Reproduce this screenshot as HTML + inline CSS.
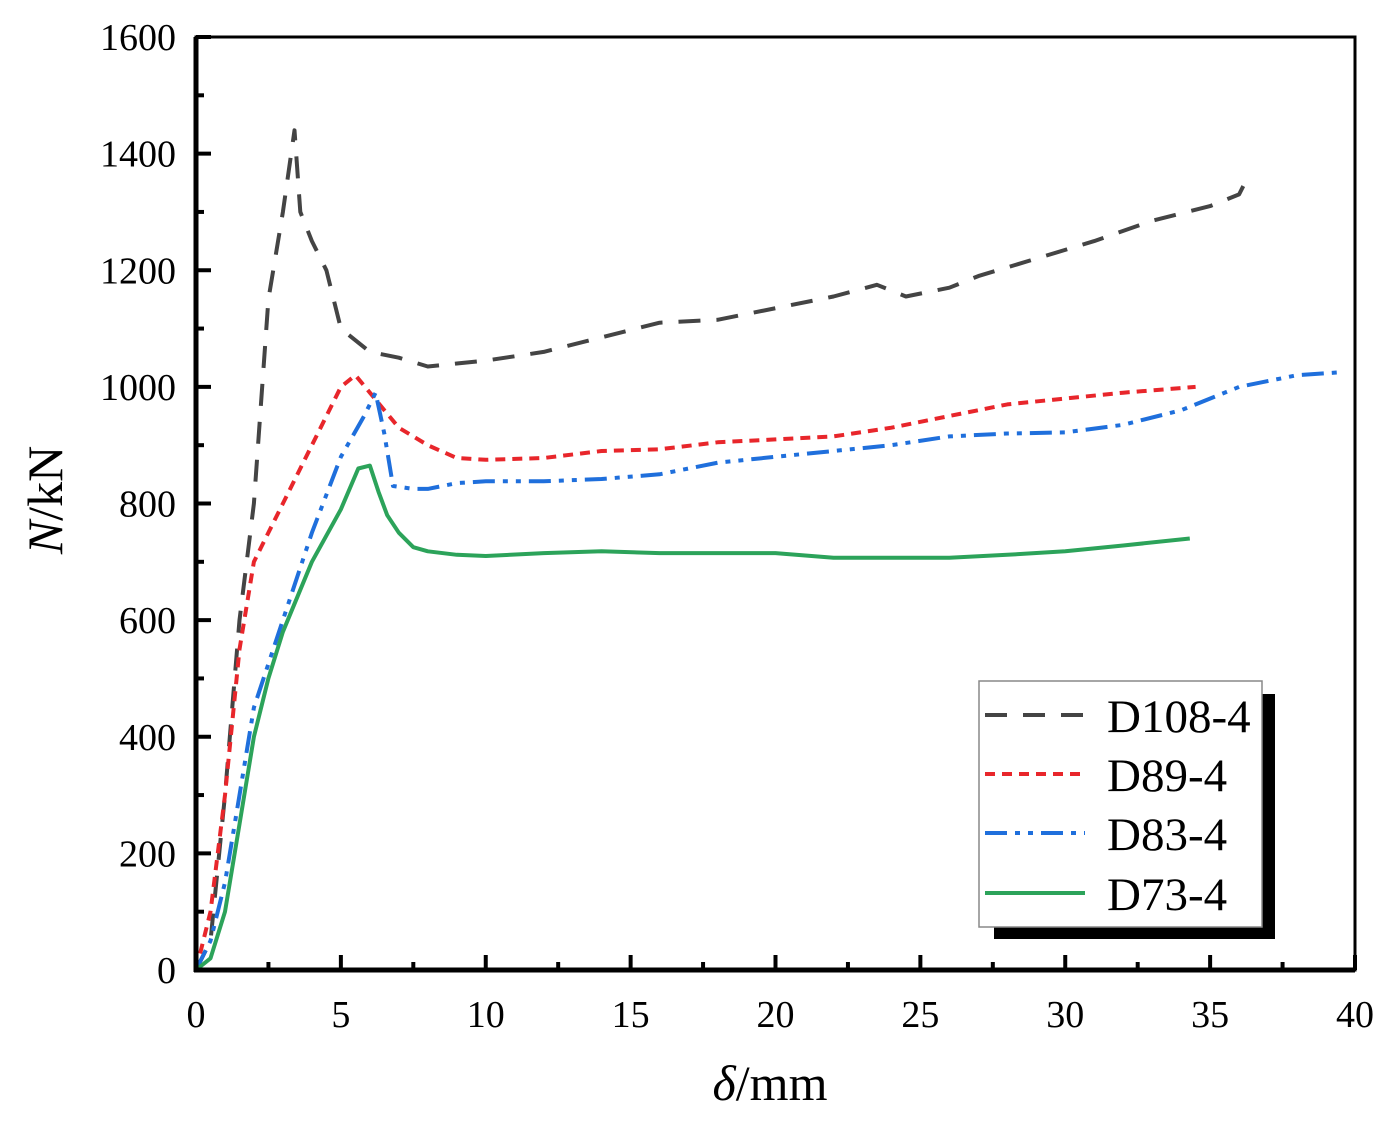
<!DOCTYPE html>
<html><head><meta charset="utf-8"><style>
html,body{margin:0;padding:0;background:#fff;}
svg{display:block;font-family:"Liberation Serif",serif;}
</style></head><body>
<svg id="chart" width="1390" height="1126" viewBox="0 0 1390 1126">
<g id="plot"></g>
</svg>
<script>
const seriesNames=["D108-4","D89-4","D83-4","D73-4"];
const xTicks=[0,5,10,15,20,25,30,35,40];
const yTicks=[0,200,400,600,800,1000,1200,1400,1600];
const d108x=[0,0.5,1,1.5,2,2.5,3,3.4,3.6,4,4.5,5,6,7,8,9,10,12,14,16,18,20,22,23.5,24.5,26,27,29,31,33,35,36,36.3];
const d108y=[0,50,300,600,800,1150,1300,1440,1300,1250,1200,1100,1060,1050,1035,1040,1045,1060,1085,1110,1115,1135,1155,1175,1155,1170,1190,1220,1250,1285,1310,1330,1360];
const d89x=[0,0.5,1,1.5,2,3,4,5,5.5,6,7,8,9,10,12,14,16,18,20,22,24,26,28,30,32,34.5];
const d89y=[0,100,300,550,700,800,900,1000,1020,990,930,900,878,875,878,890,893,905,910,915,930,950,970,980,990,1000];
const d83x=[0,0.5,1,1.5,2,3,4,5,5.8,6.2,6.5,6.8,7.5,8,9,10,12,14,16,18,20,22,24,26,28,30,32,34,36,38,39.5];
const d83y=[0,50,150,300,450,600,750,880,950,990,920,830,825,825,835,838,838,842,850,870,880,890,900,915,920,922,935,960,1000,1020,1025];
const d73x=[0,0.5,1,1.5,2,2.5,3,4,5,5.6,6,6.3,6.6,7,7.5,8,9,10,12,14,16,18,20,22,24,26,28,30,32,34.3];
const d73y=[0,20,100,250,400,500,580,700,790,860,865,820,780,750,725,718,712,710,715,718,715,715,715,707,707,707,712,718,728,740];

const X0=196,X1=1355,Y0=970,Y1=37;
const sx=v=>X0+(v/40)*(X1-X0);
const sy=v=>Y0-(v/1600)*(Y0-Y1);
const NS="http://www.w3.org/2000/svg";
const g=document.getElementById('plot');
function mk(t,a,p){const e=document.createElementNS(NS,t);for(const k in a)e.setAttribute(k,a[k]);(p||g).appendChild(e);return e;}

const styles=[
 {c:"#444",dash:"22,16"},
 {c:"#e8262b",dash:"10,7"},
 {c:"#1f6fdc",dash:"22,8,5,8,5,8"},
 {c:"#2ca35a",dash:""}
];
const xs=[d108x,d89x,d83x,d73x], ys=[d108y,d89y,d83y,d73y];
for(let s=0;s<4;s++){
  let d="";
  for(let i=0;i<xs[s].length;i++) d+=(i?"L":"M")+sx(xs[s][i]).toFixed(1)+","+sy(ys[s][i]).toFixed(1);
  const p=mk('path',{d:d,fill:"none",stroke:styles[s].c,"stroke-width":4,"stroke-dasharray":styles[s].dash,"stroke-linejoin":"round"});
  
  
}

const fr=mk('rect',{x:X0,y:Y1,width:X1-X0,height:Y0-Y1,fill:"none",stroke:"#000","stroke-width":3});


mk('line',{x1:X0,y1:Y1,x2:X0,y2:Y0+2,stroke:"#000","stroke-width":5});
mk('line',{x1:X0-2,y1:Y0,x2:X1,y2:Y0,stroke:"#000","stroke-width":5});

for(let i=0;i<xTicks.length;i++){
  const v=xTicks[i];
  mk('line',{x1:sx(v),y1:Y0,x2:sx(v),y2:Y0-15,stroke:"#000","stroke-width":4});
  if(i<xTicks.length-1) mk('line',{x1:sx(v+2.5),y1:Y0,x2:sx(v+2.5),y2:Y0-8,stroke:"#000","stroke-width":4});
  const t=mk('text',{x:sx(v),y:1027,"text-anchor":"middle","font-size":38});
  t.textContent=v;
  
  
}
for(let i=0;i<yTicks.length;i++){
  const v=yTicks[i];
  mk('line',{x1:X0,y1:sy(v),x2:X0+15,y2:sy(v),stroke:"#000","stroke-width":4});
  if(i<yTicks.length-1) mk('line',{x1:X0,y1:sy(v+100),x2:X0+8,y2:sy(v+100),stroke:"#000","stroke-width":4});
  const t=mk('text',{x:176,y:sy(v)+13,"text-anchor":"end","font-size":38});
  t.textContent=v;
  
  
}
const xt=mk('text',{x:770,y:1100,"text-anchor":"middle","font-size":50});
xt.innerHTML='<tspan font-style="italic">δ</tspan>/mm';


const yt=mk('text',{x:0,y:0,"text-anchor":"middle","font-size":50,transform:"translate(62,500) rotate(-90)"});
yt.innerHTML='<tspan font-style="italic">N</tspan>/kN';



const lg=mk('g',{});


mk('rect',{x:994,y:694,width:281,height:245,fill:"#000"},lg);
mk('rect',{x:979,y:681,width:283,height:246,fill:"#fff",stroke:"#888","stroke-width":1.5},lg);
const rowsY=[715,774,833,893];
for(let s=0;s<4;s++){
  const e=mk('g',{},lg);
  
  
  mk('line',{x1:985,y1:rowsY[s],x2:1085,y2:rowsY[s],stroke:styles[s].c,"stroke-width":4,"stroke-dasharray":styles[s].dash},e);
  const t=mk('text',{x:1107,y:rowsY[s]+17,"font-size":47},e);
  t.textContent=seriesNames[s];
}
</script>
</body></html>
